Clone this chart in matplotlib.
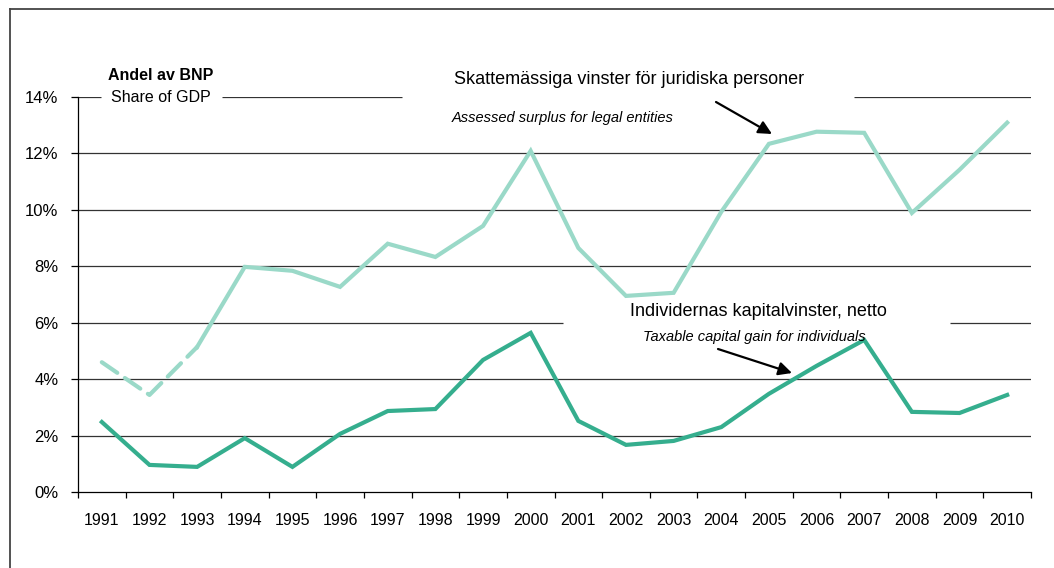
import matplotlib
matplotlib.use("Agg")
import matplotlib.pyplot as plt
from matplotlib.lines import Line2D

years = ["1991", "1992", "1993", "1994", "1995", "1996", "1997", "1998", "1999", "2000",
         "2001", "2002", "2003", "2004", "2005", "2006", "2007", "2008", "2009", "2010"]
legal = [4.60, 3.44, 5.14, 7.98, 7.84, 7.27, 8.80, 8.33, 9.43, 12.09,
         8.65, 6.95, 7.06, 9.93, 12.34, 12.77, 12.73, 9.89, 11.42, 13.09]
indiv = [2.48, 0.96, 0.89, 1.91, 0.89, 2.06, 2.87, 2.94, 4.68, 5.64,
         2.52, 1.67, 1.81, 2.30, 3.48, 4.47, 5.39, 2.84, 2.80, 3.44]
yticks = [0, 2, 4, 6, 8, 10, 12, 14]

LIGHT = "#9ad9c8"
DARK = "#35ae8e"
FONT = ["Liberation Sans Narrow", "Liberation Sans", "DejaVu Sans"]
plt.rcParams["font.family"] = FONT

W, H = 1054, 568
fig = plt.figure(figsize=(W / 100, H / 100), dpi=100)
ax = fig.add_axes([78 / W, 1 - 492 / H, (1031 - 78) / W, (492 - 97) / H])

x = list(range(len(years)))
n = len(years)

# gridlines, with gaps where the labels sit
def px2x(px):
    return (px - 78) / (1031 - 78) * n - 0.5

gaps = {14: [(101, 222), (402, 854)], 6: [(563, 950)]}
for yv in yticks[1:]:
    segs = [(78, 1031)]
    if yv in gaps:
        pts = [78]
        for a, b in gaps[yv]:
            pts += [a, b]
        pts.append(1031)
        segs = list(zip(pts[0::2], pts[1::2]))
    for a, b in segs:
        ax.hlines(yv, px2x(a), px2x(b), color="#333333", lw=0.9, zorder=1)

# series
ax.plot(x[:3], legal[:3], color=LIGHT, lw=3, dashes=(4.5, 2.2), dash_capstyle="round", zorder=3)
ax.plot(x[2:], legal[2:], color=LIGHT, lw=3, solid_joinstyle="miter", zorder=3)
ax.plot(x, indiv, color=DARK, lw=3, solid_joinstyle="miter", zorder=3)

ax.set_xlim(-0.5, n - 0.5)
ax.set_ylim(0, 14)
for s in ["top", "right"]:
    ax.spines[s].set_visible(False)
for s in ["left", "bottom"]:
    ax.spines[s].set_color("black")
    ax.spines[s].set_linewidth(0.9)

ax.set_yticks(yticks)
ax.set_yticklabels([f"{v}%" for v in yticks], fontsize=12)
ax.tick_params(axis="y", direction="out", length=5, width=0.9, pad=9)

ax.set_xticks([i - 0.5 for i in range(n + 1)])
ax.set_xticklabels([])
ax.tick_params(axis="x", which="major", direction="out", length=4, width=0.9)
ax.set_xticks(x, minor=True)
ax.set_xticklabels(years, minor=True, fontsize=11.5)
ax.tick_params(axis="x", which="minor", length=0, pad=15)

# text
def ftext(px, py, s, **kw):
    fig.text(px / W, 1 - py / H, s, va="center", ha="left", **kw)

ftext(108, 75, "Andel av BNP", fontsize=11.5, fontweight="bold")
ftext(111, 97, "Share of GDP", fontsize=11.5)
ftext(454, 80, "Skattemässiga vinster för juridiska personer", fontsize=13)
ftext(452, 118, "Assessed surplus for legal entities", fontsize=10.5, style="italic")
ftext(630, 312, "Individernas kapitalvinster, netto", fontsize=13)
ftext(643, 337, "Taxable capital gain for individuals", fontsize=10.5, style="italic", zorder=0)

arrow = dict(arrowstyle="-|>", color="black", lw=1.6, mutation_scale=20, shrinkA=0, shrinkB=0)
ax.annotate("", xy=(772, H - 134), xytext=(716, H - 102), xycoords="figure pixels",
            textcoords="figure pixels", arrowprops=arrow)
ax.annotate("", xy=(792, H - 373), xytext=(718, H - 349), xycoords="figure pixels",
            textcoords="figure pixels", arrowprops=arrow)

# outer frame (left and top edges)
fig.add_artist(Line2D([10 / W, 10 / W], [0, 1 - 9 / H], color="#444444", lw=1.3, transform=fig.transFigure))
fig.add_artist(Line2D([10 / W, 1], [1 - 9 / H, 1 - 9 / H], color="#444444", lw=1.3, transform=fig.transFigure))

fig.savefig("out.png", dpi=100)
plt.close(fig)
